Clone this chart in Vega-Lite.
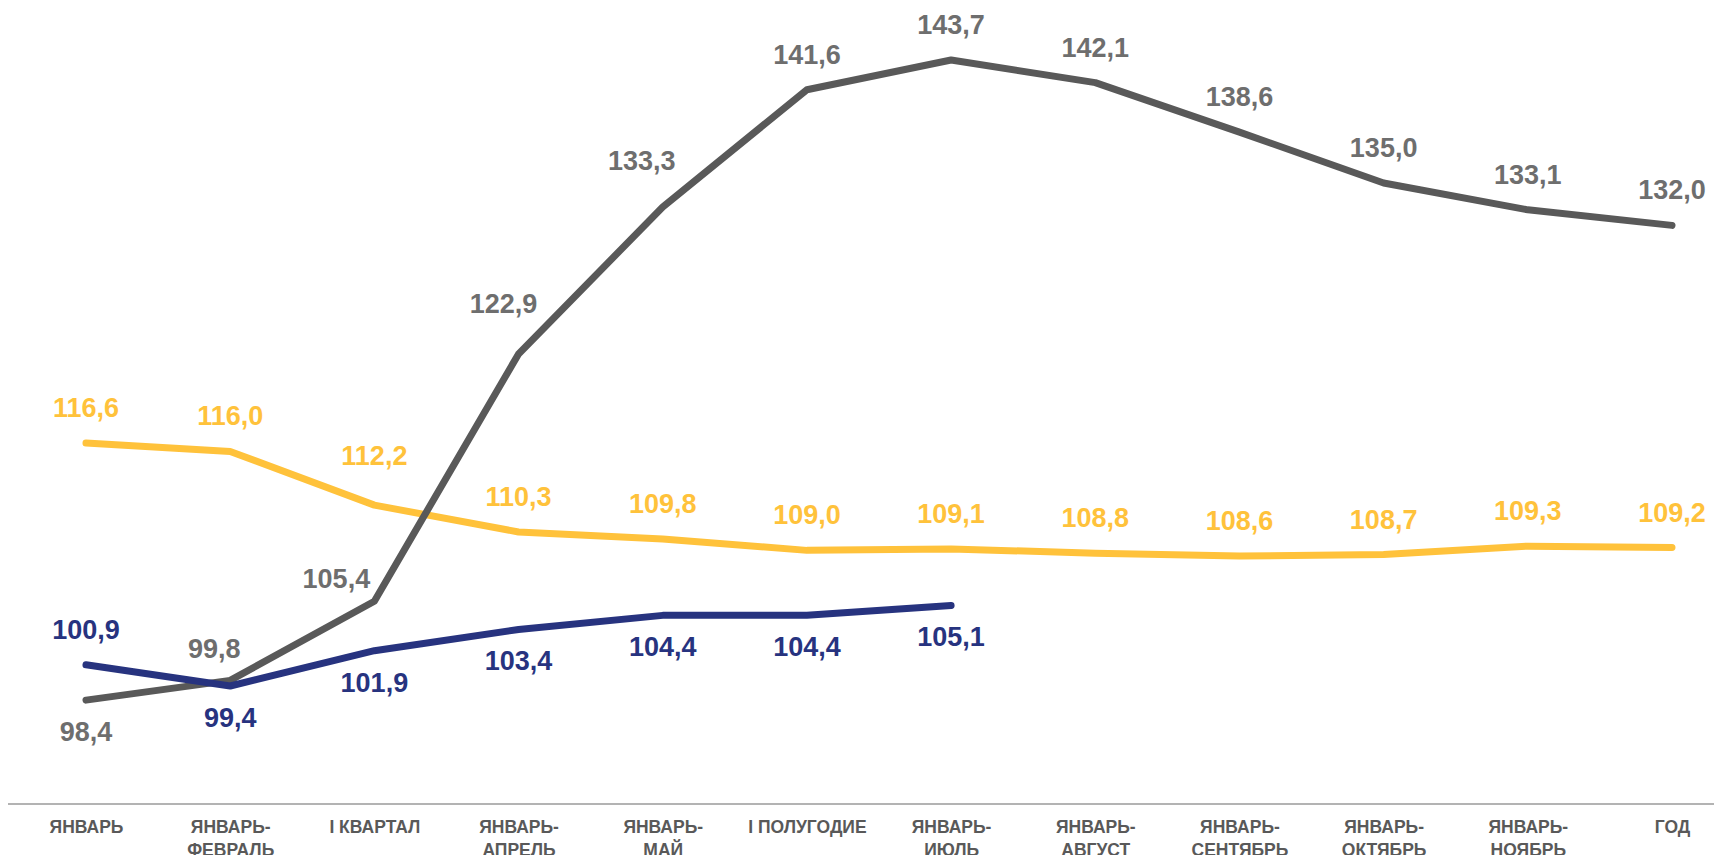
{
  "$schema": "https://vega.github.io/schema/vega-lite/v6.json",
  "width": 1706,
  "height": 804,
  "autosize": {"type": "none"},
  "padding": {"left": 8, "top": 0, "right": 0, "bottom": 51},
  "background": "white",
  "config": {
    "view": {"stroke": null},
    "locale": {"number": {"decimal": ",", "thousands": " ", "grouping": [3], "currency": ["", ""]}}
  },
  "data": {
    "values": [
      {"period": "ЯНВАРЬ", "s": "Y", "v": 116.6},
      {"period": "ЯНВАРЬ-ФЕВРАЛЬ", "s": "Y", "v": 116.0},
      {"period": "I КВАРТАЛ", "s": "Y", "v": 112.2},
      {"period": "ЯНВАРЬ-АПРЕЛЬ", "s": "Y", "v": 110.3},
      {"period": "ЯНВАРЬ-МАЙ", "s": "Y", "v": 109.8},
      {"period": "I ПОЛУГОДИЕ", "s": "Y", "v": 109.0},
      {"period": "ЯНВАРЬ-ИЮЛЬ", "s": "Y", "v": 109.1},
      {"period": "ЯНВАРЬ-АВГУСТ", "s": "Y", "v": 108.8},
      {"period": "ЯНВАРЬ-СЕНТЯБРЬ", "s": "Y", "v": 108.6},
      {"period": "ЯНВАРЬ-ОКТЯБРЬ", "s": "Y", "v": 108.7},
      {"period": "ЯНВАРЬ-НОЯБРЬ", "s": "Y", "v": 109.3},
      {"period": "ГОД", "s": "Y", "v": 109.2},
      {"period": "ЯНВАРЬ", "s": "G", "v": 98.4},
      {"period": "ЯНВАРЬ-ФЕВРАЛЬ", "s": "G", "v": 99.8},
      {"period": "I КВАРТАЛ", "s": "G", "v": 105.4},
      {"period": "ЯНВАРЬ-АПРЕЛЬ", "s": "G", "v": 122.9},
      {"period": "ЯНВАРЬ-МАЙ", "s": "G", "v": 133.3},
      {"period": "I ПОЛУГОДИЕ", "s": "G", "v": 141.6},
      {"period": "ЯНВАРЬ-ИЮЛЬ", "s": "G", "v": 143.7},
      {"period": "ЯНВАРЬ-АВГУСТ", "s": "G", "v": 142.1},
      {"period": "ЯНВАРЬ-СЕНТЯБРЬ", "s": "G", "v": 138.6},
      {"period": "ЯНВАРЬ-ОКТЯБРЬ", "s": "G", "v": 135.0},
      {"period": "ЯНВАРЬ-НОЯБРЬ", "s": "G", "v": 133.1},
      {"period": "ГОД", "s": "G", "v": 132.0},
      {"period": "ЯНВАРЬ", "s": "N", "v": 100.9},
      {"period": "ЯНВАРЬ-ФЕВРАЛЬ", "s": "N", "v": 99.4},
      {"period": "I КВАРТАЛ", "s": "N", "v": 101.9},
      {"period": "ЯНВАРЬ-АПРЕЛЬ", "s": "N", "v": 103.4},
      {"period": "ЯНВАРЬ-МАЙ", "s": "N", "v": 104.4},
      {"period": "I ПОЛУГОДИЕ", "s": "N", "v": 104.4},
      {"period": "ЯНВАРЬ-ИЮЛЬ", "s": "N", "v": 105.1}
    ]
  },
  "layer": [
    {
      "mark": {"type": "rule", "color": "#b3b3b3", "strokeWidth": 2},
      "encoding": {
        "y": {"datum": 91.05, "type": "quantitative", "scale": {"domain": [91.05, 147.95], "zero": false, "nice": false}, "axis": null}
      }
    },
    {
      "encoding": {
        "x": {
          "field": "period",
          "type": "ordinal",
          "sort": ["ЯНВАРЬ", "ЯНВАРЬ-ФЕВРАЛЬ", "I КВАРТАЛ", "ЯНВАРЬ-АПРЕЛЬ", "ЯНВАРЬ-МАЙ", "I ПОЛУГОДИЕ", "ЯНВАРЬ-ИЮЛЬ", "ЯНВАРЬ-АВГУСТ", "ЯНВАРЬ-СЕНТЯБРЬ", "ЯНВАРЬ-ОКТЯБРЬ", "ЯНВАРЬ-НОЯБРЬ", "ГОД"],
          "scale": {"type": "point", "range": [78, 1664], "padding": 0},
          "axis": {
            "title": null,
            "domain": false,
            "ticks": false,
            "grid": false,
            "labelAngle": 0,
            "labelFont": "Liberation Sans",
            "labelFontWeight": "bold",
            "labelFontSize": 17.5,
            "labelColor": "#595959",
            "labelBaseline": "top",
            "labelLineHeight": 23,
            "labelPadding": 14,
            "labelOverlap": false,
            "labelLimit": 0,
            "labelExpr": "indexof(datum.label,'-') > 0 ? [slice(datum.label,0,indexof(datum.label,'-')+1), slice(datum.label,indexof(datum.label,'-')+1)] : datum.label"
          }
        },
        "y": {"field": "v", "type": "quantitative", "scale": {"domain": [91.05, 147.95], "zero": false, "nice": false}, "axis": null},
        "color": {
          "field": "s",
          "type": "nominal",
          "scale": {"domain": ["Y", "G", "N"], "range": ["#FFC23B", "#595959", "#27337F"]},
          "legend": null
        }
      },
      "layer": [
        {
          "mark": {"type": "line", "strokeWidth": 7, "strokeCap": "round", "strokeJoin": "round"}
        },
        {
          "transform": [{"filter": "(datum.s=='G' && indexof(['ЯНВАРЬ','ЯНВАРЬ-ФЕВРАЛЬ','I КВАРТАЛ','ЯНВАРЬ-АПРЕЛЬ','ЯНВАРЬ-МАЙ'], datum.period) < 0) || (datum.s=='Y' && datum.period != 'I КВАРТАЛ') || (datum.s=='N' && datum.period == 'ЯНВАРЬ')"}],
          "mark": {"type": "text", "font": "Liberation Sans", "fontWeight": "bold", "fontSize": 27, "baseline": "middle", "dy": -34},
          "encoding": {
            "text": {"field": "v", "type": "quantitative", "format": ".1f"},
            "color": {"condition": {"test": "datum.s=='G'", "value": "#6e6e6e"}, "field": "s", "type": "nominal", "legend": null}
          }
        },
        {
          "transform": [{"filter": "(datum.s=='G' && datum.period == 'ЯНВАРЬ') || (datum.s=='N' && datum.period != 'ЯНВАРЬ')"}],
          "mark": {"type": "text", "font": "Liberation Sans", "fontWeight": "bold", "fontSize": 27, "baseline": "middle", "dy": 33},
          "encoding": {
            "text": {"field": "v", "type": "quantitative", "format": ".1f"},
            "color": {"condition": {"test": "datum.s=='G'", "value": "#6e6e6e"}, "field": "s", "type": "nominal", "legend": null}
          }
        },
        {
          "transform": [{"filter": "datum.s=='G' && datum.period == 'ЯНВАРЬ-ФЕВРАЛЬ'"}],
          "mark": {"type": "text", "font": "Liberation Sans", "fontWeight": "bold", "fontSize": 27, "baseline": "middle", "dx": -16, "dy": -30},
          "encoding": {"text": {"field": "v", "type": "quantitative", "format": ".1f"}, "color": {"value": "#6e6e6e"}}
        },
        {
          "transform": [{"filter": "datum.s=='G' && datum.period == 'I КВАРТАЛ'"}],
          "mark": {"type": "text", "font": "Liberation Sans", "fontWeight": "bold", "fontSize": 27, "baseline": "middle", "dx": -38, "dy": -21},
          "encoding": {"text": {"field": "v", "type": "quantitative", "format": ".1f"}, "color": {"value": "#6e6e6e"}}
        },
        {
          "transform": [{"filter": "datum.s=='G' && datum.period == 'ЯНВАРЬ-АПРЕЛЬ'"}],
          "mark": {"type": "text", "font": "Liberation Sans", "fontWeight": "bold", "fontSize": 27, "baseline": "middle", "dx": -15, "dy": -49},
          "encoding": {"text": {"field": "v", "type": "quantitative", "format": ".1f"}, "color": {"value": "#6e6e6e"}}
        },
        {
          "transform": [{"filter": "datum.s=='G' && datum.period == 'ЯНВАРЬ-МАЙ'"}],
          "mark": {"type": "text", "font": "Liberation Sans", "fontWeight": "bold", "fontSize": 27, "baseline": "middle", "dx": -21, "dy": -45},
          "encoding": {"text": {"field": "v", "type": "quantitative", "format": ".1f"}, "color": {"value": "#6e6e6e"}}
        },
        {
          "transform": [{"filter": "datum.s=='Y' && datum.period == 'I КВАРТАЛ'"}],
          "mark": {"type": "text", "font": "Liberation Sans", "fontWeight": "bold", "fontSize": 27, "baseline": "middle", "dy": -48},
          "encoding": {"text": {"field": "v", "type": "quantitative", "format": ".1f"}}
        }
      ]
    }
  ]
}
